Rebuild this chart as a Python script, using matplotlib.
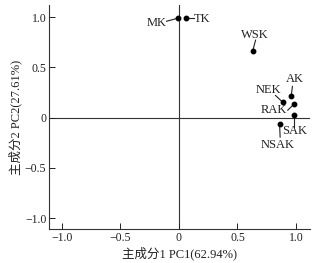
import matplotlib
matplotlib.use("Agg")
import matplotlib.pyplot as plt

plt.rcParams['font.family'] = ['Liberation Serif', 'Noto Sans CJK SC']
plt.rcParams['font.size'] = 8.5

# sample loadings on PC1 / PC2
names = ['MK', 'TK', 'WSK', 'AK', 'NEK', 'RAK', 'SAK', 'NSAK']
pc1 = [-0.005, 0.062, 0.63, 0.96, 0.89, 0.98, 0.98, 0.86]
pc2 = [0.99, 0.99, 0.66, 0.215, 0.15, 0.13, 0.023, -0.06]

# where each label sits, and where its leader line starts
label_x = [-0.188, 0.20, 0.645, 0.995, 0.766, 0.81, 0.99, 0.84]
label_y = [0.94, 0.985, 0.826, 0.388, 0.279, 0.073, -0.136, -0.276]
lead_x = [-0.107, 0.13, 0.655, 0.97, 0.825, 0.93, 0.98, 0.865]
lead_y = [0.958, 0.99, 0.77, 0.31, 0.22, 0.073, -0.09, -0.195]

ticks = [-1.0, -0.5, 0, 0.5, 1.0]
tick_labels = ['\u22121.0', '\u22120.5', '0', '0.5', '1.0']

fig = plt.figure(figsize=(3.15, 2.63), dpi=100)
ax = fig.add_axes([0.156, 0.129, 0.828, 0.852])

ax.axhline(0, color='#333333', lw=0.8, zorder=1)
ax.axvline(0, color='#333333', lw=0.8, zorder=1)

for name, x, y, tx, ty, lx, ly in zip(names, pc1, pc2, label_x, label_y, lead_x, lead_y):
    ax.plot([lx, x], [ly, y], color='#222222', lw=0.8, zorder=2)
    ax.text(tx, ty, name, ha='center', va='center', fontsize=9, color='#222222')

ax.plot(pc1, pc2, 'o', color='black', ms=3.2, zorder=3)

ax.set_xlim(-1.11, 1.12)
ax.set_ylim(-1.11, 1.12)
ax.set_xticks(ticks)
ax.set_xticklabels(tick_labels)
ax.set_yticks(ticks)
ax.set_yticklabels(tick_labels)
ax.tick_params(direction='in', length=4, width=0.7, pad=2, colors='#222222')

for side in ['top', 'right']:
    ax.spines[side].set_visible(False)
for side in ['left', 'bottom']:
    ax.spines[side].set_linewidth(0.8)
    ax.spines[side].set_color('#333333')

ax.set_xlabel('主成分1 PC1(62.94%)', labelpad=2, color='#222222', fontsize=9)
ax.set_ylabel('主成分2 PC2(27.61%)', labelpad=2, color='#222222', fontsize=9)

fig.savefig('out.png', dpi=100)
